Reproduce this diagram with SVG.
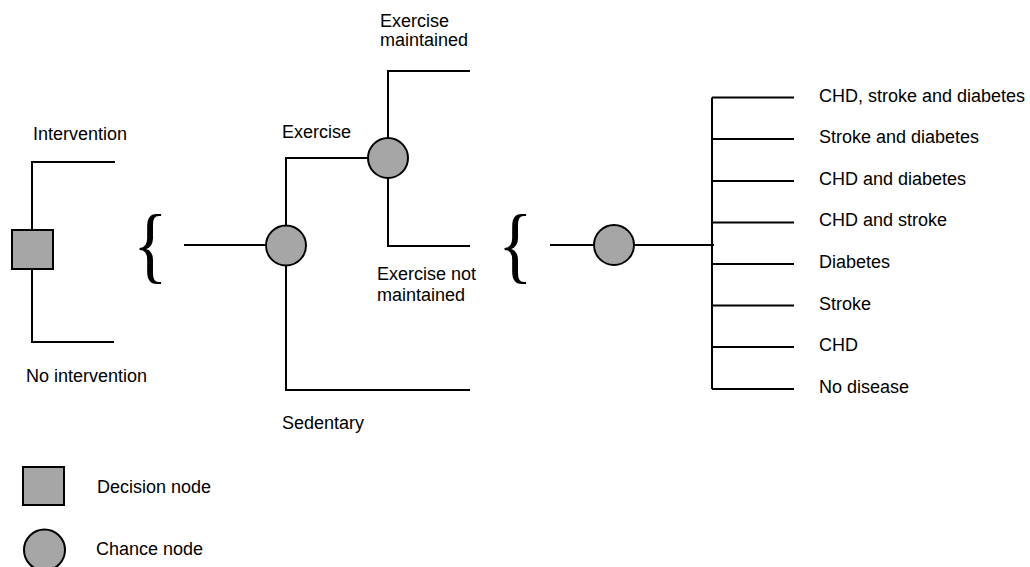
<svg xmlns="http://www.w3.org/2000/svg" width="1030" height="567" viewBox="0 0 1030 567">
<style>
  .ln { fill: none; stroke: #000; stroke-width: 2; }
  .nd { fill: #a6a6a6; stroke: #000; stroke-width: 2; }
  .t { font-family: "Liberation Sans", Arial, sans-serif; font-size: 18px; fill: #000; }
  .br { font-family: "Liberation Serif", "Times New Roman", serif; font-size: 84px; fill: #000; }
</style>
<rect width="1030" height="567" fill="#fff"/>
<g id="connectors">
  <path class="ln" d="M115,162 H32 V230 M32,269 V342 H114"/>
  <path class="ln" d="M184,245 H266"/>
  <path class="ln" d="M286,225 V158 H368 M286,266 V390 H470"/>
  <path class="ln" d="M388,138 V71 H470 M388,178 V246 H470"/>
  <path class="ln" d="M550,245 H594 M634,245 H714"/>
  <path class="ln" d="M712,97.5 V389 M712,97.5 H794 M712,139 H794 M712,181 H794 M712,222.5 H794 M712,264 H794 M712,305.5 H794 M712,347 H794 M712,389 H794"/>
</g>
<g id="brace1"><text class="br" transform="translate(133,272.5) scale(0.86,1)">{</text></g>
<g id="brace2"><text class="br" transform="translate(498,272.5) scale(0.86,1)">{</text></g>
<g id="decision"><rect class="nd" x="12" y="230" width="41" height="39"/></g>
<g id="chance1"><circle class="nd" cx="286" cy="245.5" r="20"/></g>
<g id="chance2"><circle class="nd" cx="388" cy="158" r="20"/></g>
<g id="chance3"><circle class="nd" cx="614" cy="245" r="20"/></g>
<g id="labels">
  <text class="t" x="33" y="140">Intervention</text>
  <text class="t" x="26" y="382">No intervention</text>
  <text class="t" x="282" y="138">Exercise</text>
  <text class="t" x="282" y="429">Sedentary</text>
  <text class="t" x="380" y="27">Exercise</text>
  <text class="t" x="380" y="46">maintained</text>
  <text class="t" x="377" y="280">Exercise not</text>
  <text class="t" x="377" y="301">maintained</text>
  <text class="t" x="819" y="102">CHD, stroke and diabetes</text>
  <text class="t" x="819" y="143">Stroke and diabetes</text>
  <text class="t" x="819" y="185">CHD and diabetes</text>
  <text class="t" x="819" y="226">CHD and stroke</text>
  <text class="t" x="819" y="268">Diabetes</text>
  <text class="t" x="819" y="310">Stroke</text>
  <text class="t" x="819" y="351">CHD</text>
  <text class="t" x="819" y="393">No disease</text>
</g>
<g id="legend">
  <rect class="nd" x="23" y="467" width="41" height="38"/>
  <text class="t" x="97" y="493">Decision node</text>
  <circle class="nd" cx="44.5" cy="550" r="20.5"/>
  <text class="t" x="96" y="555">Chance node</text>
</g>
</svg>
